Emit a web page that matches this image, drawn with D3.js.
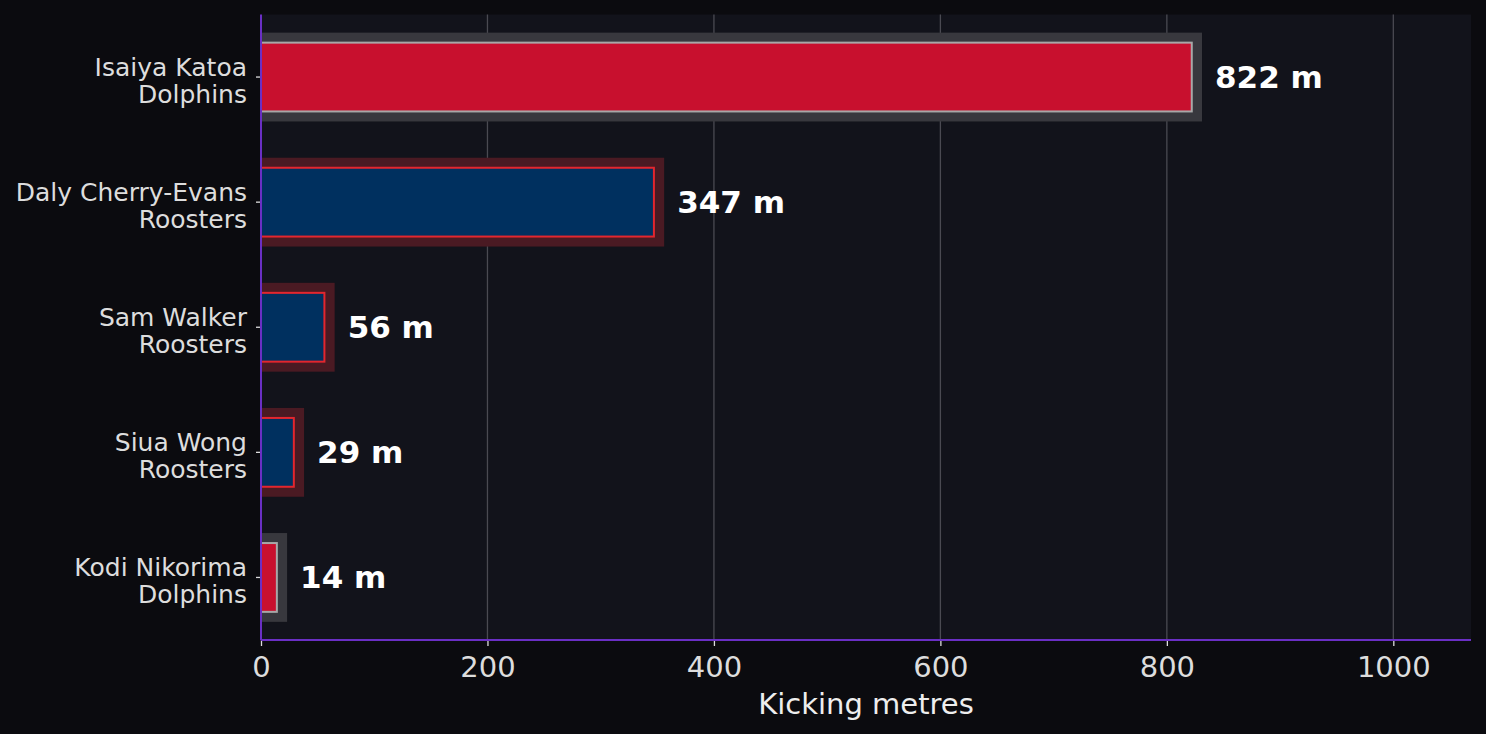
<!DOCTYPE html>
<html>
<head>
<meta charset="utf-8">
<script src="https://cdn.jsdelivr.net/npm/d3@7"></script>
<style>
  html, body { margin: 0; padding: 0; background: #0b0b0f; }
  svg { display: block; font-family: "DejaVu Sans", sans-serif; }
</style>
</head>
<body>
<svg id="chart"></svg>
<script>
const players = ["Isaiya Katoa", "Daly Cherry-Evans", "Sam Walker", "Siua Wong", "Kodi Nikorima"];
const teams = ["Dolphins", "Roosters", "Roosters", "Roosters", "Dolphins"];
const kickingMetres = [822, 347, 56, 29, 14];
const xTicks = [0, 200, 400, 600, 800, 1000];

const WIDTH = 1486;
const HEIGHT = 734;
const FONT = "DejaVu Sans, sans-serif";
const margin = { top: 14.5, right: 15, bottom: 94, left: 261 };

const teamStyle = {
    Dolphins: { fill: "#c8102e", edge: "#a8a8a8", glow: "#38383e" },
    Roosters: { fill: "#00305f", edge: "#e3262e", glow: "#4a1a23" }
};

const svg = d3.select("#chart")
    .attr("width", WIDTH)
    .attr("height", HEIGHT);

svg.append("rect")
    .attr("width", WIDTH)
    .attr("height", HEIGHT)
    .attr("fill", "#0b0b0f");

const innerW = WIDTH - margin.left - margin.right;
const innerH = HEIGHT - margin.top - margin.bottom;
const maxVal = d3.max(kickingMetres);

const x = d3.scaleLinear()
    .domain([0, maxVal * 1.3])
    .range([0, innerW]);

const y = d3.scaleBand()
    .domain(players)
    .range([0, innerH]);

const rows = players.map((name, i) => ({
    name,
    team: teams[i],
    value: kickingMetres[i]
}));

const g = svg.append("g").attr("transform", `translate(${margin.left},${margin.top})`);

g.append("rect")
    .attr("width", innerW)
    .attr("height", innerH)
    .attr("fill", "#12131b");

// vertical grid
g.selectAll("line.grid")
    .data(xTicks.slice(1))
    .join("line")
    .attr("class", "grid")
    .attr("x1", (d) => x(d))
    .attr("x2", (d) => x(d))
    .attr("y1", 0)
    .attr("y2", innerH)
    .attr("stroke", "#4a4a52")
    .attr("stroke-width", 1.3);

const step = y.step();

// glow behind each bar
g.selectAll("rect.glow")
    .data(rows)
    .join("rect")
    .attr("class", "glow")
    .attr("x", 0)
    .attr("y", (d) => y(d.name) + step * 0.5 - step * 0.355)
    .attr("width", (d) => x(d.value + maxVal * 0.011))
    .attr("height", step * 0.71)
    .attr("fill", (d) => teamStyle[d.team].glow);

g.selectAll("rect.bar")
    .data(rows)
    .join("rect")
    .attr("class", "bar")
    .attr("x", 0)
    .attr("y", (d) => y(d.name) + step * 0.5 - step * 0.275)
    .attr("width", (d) => x(d.value))
    .attr("height", step * 0.55)
    .attr("fill", (d) => teamStyle[d.team].fill)
    .attr("stroke", (d) => teamStyle[d.team].edge)
    .attr("stroke-width", 2);

g.selectAll("text.value")
    .data(rows)
    .join("text")
    .attr("class", "value")
    .attr("x", (d) => x(d.value + maxVal * 0.025))
    .attr("y", (d) => y(d.name) + step * 0.5)
    .attr("dy", "0.35em")
    .attr("fill", "#ffffff")
    .attr("font-family", FONT)
    .attr("font-size", 31)
    .attr("font-weight", "bold")
    .text((d) => `${d.value} m`);

// y axis
const yAxis = g.append("g")
    .call(d3.axisLeft(y).tickSize(5).tickPadding(8).tickFormat(() => ""));
yAxis.attr("font-family", FONT);
yAxis.select(".domain").remove();
yAxis.selectAll(".tick line").attr("stroke", "#dddddd").attr("stroke-width", 1.3);

yAxis.selectAll(".tick")
    .append("text")
    .attr("fill", "#dddddd")
    .attr("font-family", FONT)
    .attr("font-size", 25)
    .attr("text-anchor", "end")
    .attr("x", -14)
    .selectAll("tspan")
    .data((name) => {
        const row = rows.find((r) => r.name === name);
        return [row.name, row.team];
    })
    .join("tspan")
    .attr("x", -14)
    .attr("y", (d, i) => (i === 0 ? -1.5 : 26))
    .text((d) => d);

// x axis
const xAxis = g.append("g")
    .attr("transform", `translate(0,${innerH})`)
    .call(d3.axisBottom(x).tickValues(xTicks).tickSize(6).tickPadding(10).tickFormat(d3.format("d")));
xAxis.attr("font-family", FONT);
xAxis.select(".domain").remove();
xAxis.selectAll(".tick line").attr("stroke", "#dddddd").attr("stroke-width", 1.3);
xAxis.selectAll(".tick text")
    .attr("fill", "#dddddd")
    .attr("font-size", 29)
    .attr("font-family", FONT);

g.append("text")
    .attr("x", innerW / 2)
    .attr("y", innerH + 74)
    .attr("text-anchor", "middle")
    .attr("fill", "#eeeeee")
    .attr("font-family", FONT)
    .attr("font-size", 29)
    .text("Kicking metres");

// purple spines
g.append("line")
    .attr("x1", 0).attr("x2", 0)
    .attr("y1", 0).attr("y2", innerH)
    .attr("stroke", "#6a2fc4")
    .attr("stroke-width", 2);

g.append("line")
    .attr("x1", 0).attr("x2", innerW)
    .attr("y1", innerH).attr("y2", innerH)
    .attr("stroke", "#6a2fc4")
    .attr("stroke-width", 2);
</script>
</body>
</html>
